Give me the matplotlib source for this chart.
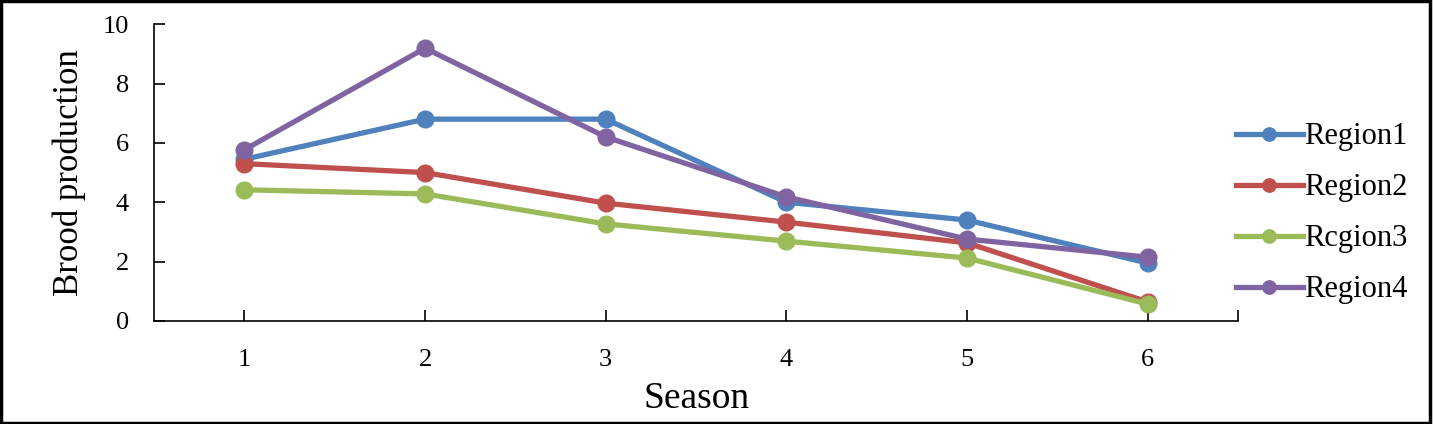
import matplotlib.pyplot as plt
from matplotlib.patches import Rectangle

# --------------------------------------------
# Data
# --------------------------------------------

seasons = [1, 2, 3, 4, 5, 6]

region1 = [5.45, 6.8, 6.8, 4.0, 3.4, 1.95]
region2 = [5.3, 5.0, 3.97, 3.33, 2.63, 0.64]
region3 = [4.42, 4.28, 3.27, 2.69, 2.12, 0.57]
region4 = [5.77, 9.19, 6.2, 4.18, 2.76, 2.15]

labels = ["Region1", "Region2", "Rcgion3", "Region4"]
colors = ["#4F81BD", "#C0504D", "#9BBB59", "#8064A2"]

plt.rcParams["font.family"] = ["Liberation Serif", "DejaVu Serif"]

# --------------------------------------------
# Plot
# --------------------------------------------

fig = plt.figure(figsize=(14.33, 4.24), dpi=100)
ax = fig.add_axes([0.1075, 0.243, 0.7565, 0.7])

for values, label, color in zip([region1, region2, region3, region4], labels, colors):
    ax.plot(
        seasons,
        values,
        color=color,
        linewidth=3.8,
        marker="o",
        markersize=12,
        label=label
    )

ax.set_xlim(0.5, 6.5)
ax.set_ylim(0, 10)
ax.set_xticks(seasons)
ax.set_xticks([6.5], minor=True)
ax.set_yticks([0, 2, 4, 6, 8, 10])

ax.tick_params(axis="both", direction="in", labelsize=19, length=8, width=1.2)
ax.tick_params(axis="x", which="minor", direction="in", length=8, width=1.2)
ax.tick_params(axis="x", pad=20)
ax.tick_params(axis="y", pad=18)

for side in ["top", "right"]:
    ax.spines[side].set_visible(False)
for side in ["left", "bottom"]:
    ax.spines[side].set_linewidth(1.2)

ax.set_xlabel("Season", fontsize=27, labelpad=8)
ax.set_ylabel("Brood production", fontsize=25, labelpad=12)

ax.legend(
    loc="center left",
    bbox_to_anchor=(0.843, 0.497),
    bbox_transform=fig.transFigure,
    frameon=False,
    fontsize=22,
    handlelength=2.2,
    handletextpad=0.05,
    labelspacing=0.72,
    markerscale=0.8
)

# frame around the whole figure
fig.patches.append(
    Rectangle((0.001, 0.002), 0.997, 0.995, transform=fig.transFigure,
              fill=False, edgecolor="black", linewidth=2.5)
)

plt.savefig("out.png", dpi=100)
